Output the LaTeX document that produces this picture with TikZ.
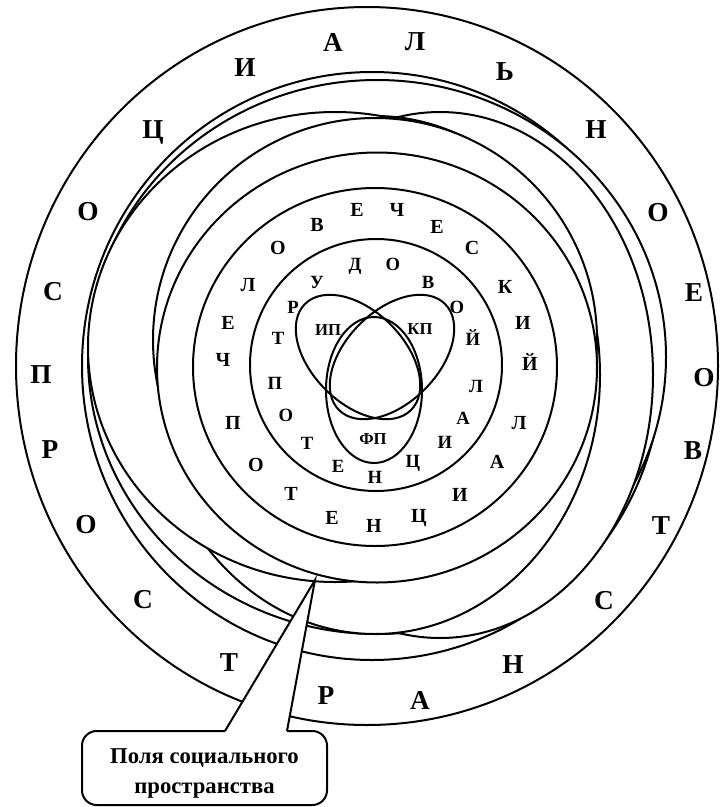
\documentclass[tikz,border=0pt]{standalone}
\usepackage{fontspec}
\setmainfont{Liberation Serif}
\usetikzlibrary{positioning}

\begin{document}
\begin{tikzpicture}[x=0.75pt, y=-0.75pt, line width=1.5pt,
  field/.style={draw, fill=white},
  spaceletter/.style={inner sep=0pt, font=\bfseries\fontsize{20.5}{20.5}\selectfont},
  humanletter/.style={inner sep=0pt, font=\bfseries\fontsize{15}{15}\selectfont},
  labourletter/.style={inner sep=0pt, font=\bfseries\fontsize{14}{14}\selectfont},
  lobe/.style={inner sep=0pt, font=\bfseries\fontsize{12.5}{12.5}\selectfont},
  fieldbox/.style={draw, fill=white, rounded corners=11pt,
    minimum width=183.75pt, minimum height=55.5pt},
  fieldtext/.style={align=center, inner sep=0pt,
    font=\bfseries\fontsize{17}{22.5}\selectfont}]
  \useasboundingbox (0,0) rectangle (720,807);

  % social space and its fields (back to front)
  \draw[field] (367,366) ellipse [x radius=351, y radius=359];
  \draw[field] (372,366) ellipse [x radius=290, y radius=294];
  \draw[field] (377,357) ellipse [x radius=289, y radius=277];
  \draw[field] (440,375) ellipse [x radius=213, y radius=263];
  \draw[field] (375,375) ellipse [x radius=225, y radius=259];
  \draw[field] (335,347) ellipse [x radius=247, y radius=235];
  \draw[field] (375,340) ellipse [x radius=222, y radius=222];
  \draw[field] (377,367.5) ellipse [x radius=220, y radius=215];
  % human and labour potential
  \draw[field] (375,367) ellipse [x radius=182, y radius=179];
  \draw[field] (376,365) ellipse [x radius=126, y radius=126];
  % three potentials
  \draw[rotate around={-45:(358,357)}] (358,357) ellipse [x radius=75, y radius=46];
  \draw[rotate around={45:(392,357)}] (392,357) ellipse [x radius=75, y radius=46];
  \draw (374,390) ellipse [x radius=48, y radius=73];

  \node[spaceletter] (s1)  at (53,292)  {С};
  \node[spaceletter] (s2)  at (88,212)  {О};
  \node[spaceletter] (s3)  at (153,132) {Ц};
  \node[spaceletter] (s4)  at (245,68)  {И};
  \node[spaceletter] (s5)  at (333,42)  {А};
  \node[spaceletter] (s6)  at (415,42)  {Л};
  \node[spaceletter] (s7)  at (505,72)  {Ь};
  \node[spaceletter] (s8)  at (596,130) {Н};
  \node[spaceletter] (s9)  at (658,213) {О};
  \node[spaceletter] (s10) at (694,293) {Е};
  \node[spaceletter] (s11) at (41,375)  {П};
  \node[spaceletter] (s12) at (50,450)  {Р};
  \node[spaceletter] (s13) at (86,525)  {О};
  \node[spaceletter] (s14) at (143,600) {С};
  \node[spaceletter] (s15) at (229,663) {Т};
  \node[spaceletter] (s16) at (326,696) {Р};
  \node[spaceletter] (s17) at (420,700) {А};
  \node[spaceletter] (s18) at (513,665) {Н};
  \node[spaceletter] (s19) at (604,601) {С};
  \node[spaceletter] (s20) at (661,526) {Т};
  \node[spaceletter] (s21) at (693,451) {В};
  \node[spaceletter] (s22) at (704,378) {О};

  \node[humanletter] (h1)  at (223,360) {Ч};
  \node[humanletter] (h2)  at (228,323) {Е};
  \node[humanletter] (h3)  at (248,285) {Л};
  \node[humanletter] (h4)  at (278,248) {О};
  \node[humanletter] (h5)  at (317,225) {В};
  \node[humanletter] (h6)  at (357,210) {Е};
  \node[humanletter] (h7)  at (397,210) {Ч};
  \node[humanletter] (h8)  at (437,227) {Е};
  \node[humanletter] (h9)  at (472,248) {С};
  \node[humanletter] (h10) at (505,287) {К};
  \node[humanletter] (h11) at (523,323) {И};
  \node[humanletter] (h12) at (530,362) {Й};
  \node[humanletter] (h13) at (233,423) {П};
  \node[humanletter] (h14) at (256,465) {О};
  \node[humanletter] (h15) at (291,494) {Т};
  \node[humanletter] (h16) at (332,518) {Е};
  \node[humanletter] (h17) at (374,526) {Н};
  \node[humanletter] (h18) at (419,518) {Ц};
  \node[humanletter] (h19) at (460,495) {И};
  \node[humanletter] (h20) at (497,462) {А};
  \node[humanletter] (h21) at (519,423) {Л};

  \node[labourletter] (t1)  at (278,338) {Т};
  \node[labourletter] (t2)  at (293,307) {Р};
  \node[labourletter] (t3)  at (317,282) {У};
  \node[labourletter] (t4)  at (355,266) {Д};
  \node[labourletter] (t5)  at (393,264) {О};
  \node[labourletter] (t6)  at (428,282) {В};
  \node[labourletter] (t7)  at (457,307) {О};
  \node[labourletter] (t8)  at (473,338) {Й};
  \node[labourletter] (t9)  at (275,383) {П};
  \node[labourletter] (t10) at (286,415) {О};
  \node[labourletter] (t11) at (307,443) {Т};
  \node[labourletter] (t12) at (338,466) {Е};
  \node[labourletter] (t13) at (375,477) {Н};
  \node[labourletter] (t14) at (413,463) {Ц};
  \node[labourletter] (t15) at (445,442) {И};
  \node[labourletter] (t16) at (463,418) {А};
  \node[labourletter] (t17) at (476,386) {Л};

  \node[lobe] (ip) at (328,330) {ИП};
  \node[lobe] (kp) at (420,329) {КП};
  \node[lobe] (fp) at (373,439) {ФП};

  % callout
  \node[fieldbox] (fields) at (204.5,768) {};
  \node[fieldtext] (fieldsname) at (204.5,773) {Поля социального\\пространства};
  \coordinate (tip) at (315,580);
  \coordinate (wl) at (225,731);
  \coordinate (wr) at (287,731);
  \fill[white] (wl) -- (tip) -- (wr) -- cycle;
  \draw[white, line width=2.5pt] (wl) -- (wr);
  \draw (wl) -- (tip) -- (wr);
\end{tikzpicture}
\end{document}
